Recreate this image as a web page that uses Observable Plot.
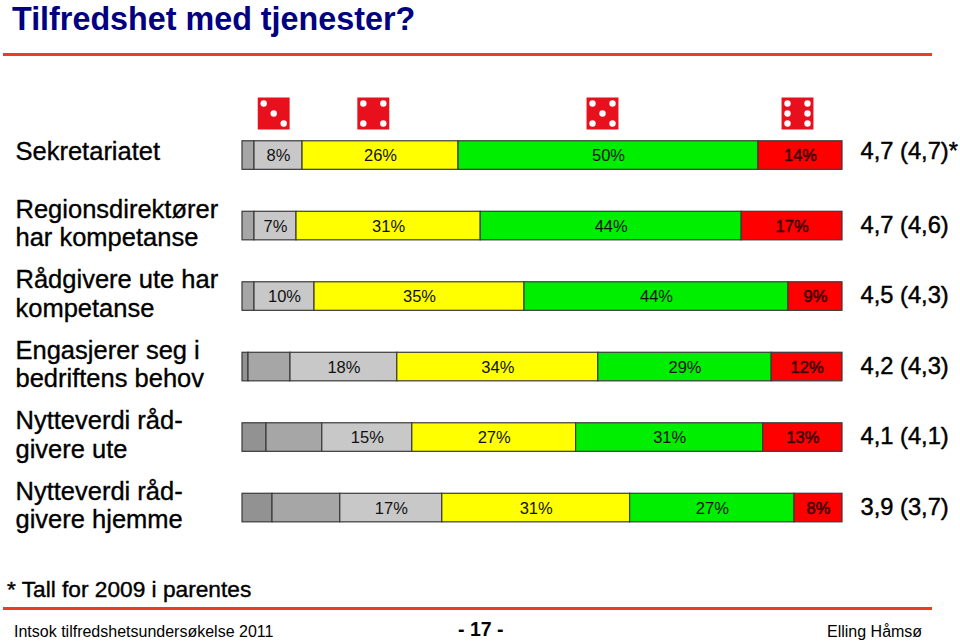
<!DOCTYPE html>
<html lang="no">
<head>
<meta charset="utf-8">
<title>Tilfredshet med tjenester?</title>
<script src="https://cdn.jsdelivr.net/npm/d3@7"></script>
<script src="https://cdn.jsdelivr.net/npm/@observablehq/plot@0.6"></script>
<style>
html,body{margin:0;padding:0;background:#fff}
body{width:960px;height:641px;overflow:hidden;font-family:"Liberation Sans",Arial,sans-serif;position:relative}
#head{height:87px;position:relative}
#head h1{position:absolute;left:12px;top:-1px;margin:0;font-size:32.3px;line-height:40px;font-weight:bold;color:#000080}
.rule{position:absolute;left:3px;width:929px;height:3px;background:#e8401c}
#chart{height:485px}
#chart svg{display:block}
#foot{position:relative;height:69px;color:#000}
#foot div{position:absolute;white-space:nowrap}
</style>
</head>
<body>
<div id="head"><h1>Tilfredshet med tjenester?</h1><div class="rule" style="top:53px"></div></div>
<div id="chart"></div>
<div id="foot">
  <div style="left:7px;top:4px;font-size:22.7px;line-height:26px;-webkit-text-stroke:0.4px #000">* Tall for 2009 i parentes</div>
  <div class="rule" style="top:35px"></div>
  <div style="left:14px;top:50px;font-size:16px;line-height:20px">Intsok tilfredshetsundersøkelse 2011</div>
  <div style="left:458px;top:46px;font-size:19.5px;line-height:22px;font-weight:bold">- 17 -</div>
  <div style="left:827px;top:50px;font-size:16px;line-height:20px">Elling Håmsø</div>
</div>
<script>
const rows = ["Sekretariatet","Regionsdirektører\nhar kompetanse","Rådgivere ute har\nkompetanse","Engasjerer seg i\nbedriftens behov","Nytteverdi råd-\ngivere ute","Nytteverdi råd-\ngivere hjemme"];
const scores = ["4,7 (4,7)*","4,7 (4,6)","4,5 (4,3)","4,2 (4,3)","4,1 (4,1)","3,9 (3,7)"];
const levels = ["1","2","3","4","5","6"];
const levelColors = ["#929292","#a6a6a6","#c8c8c8","#ffff00","#00ee00","#ff0000"];

// Share of answers per row
const level1 = [0, 0, 0, 1, 4, 5];
const level2 = [2, 2, 2, 7, 9.3, 11.3];
const level3 = [8, 7, 10, 17.8, 15, 17];
const level4 = [26, 30.7, 35, 33.5, 27.3, 31.3];
const level5 = [50, 43.5, 44, 28.9, 31.2, 27.4];
const level6 = [14, 16.8, 9, 11.8, 13.2, 8];
// Printed labels (rounded figures as shown)
const label3 = ["8%","7%","10%","18%","15%","17%"];
const label4 = ["26%","31%","35%","34%","27%","31%"];
const label5 = ["50%","44%","44%","29%","31%","27%"];
const label6 = ["14%","17%","9%","12%","13%","8%"];

const dice = [
  {x: 5.2, pips: 3},
  {x: 21.8, pips: 4},
  {x: 60, pips: 5},
  {x: 92.5, pips: 6}
];
const pipLayouts = {
  3: [[-10,-10],[0,0],[10,10]],
  4: [[-10,-10],[10,-10],[-10,10],[10,10]],
  5: [[-10,-10],[10,-10],[0,0],[-10,10],[10,10]],
  6: [[-10,-10],[10,-10],[-10,0],[10,0],[-10,10],[10,10]]
};

const series = [level1,level2,level3,level4,level5,level6];
const labels = [null,null,label3,label4,label5,label6];
const cells = [];
rows.forEach((row,i) => {
  let start = 0;
  series.forEach((s,j) => {
    const v = s[i];
    if (v > 0) cells.push({row, level: levels[j], x1: start, x2: start + v, label: labels[j] ? labels[j][i] : ""});
    start += v;
  });
});
const tops = rows.map((row,i) => ({row, score: scores[i]}));

const diceY = 26; // die centre inside the plot
const pipMarks = [];
for (const [dx,dy] of [[-10,-10],[0,-10],[10,-10],[-10,0],[0,0],[10,0],[-10,10],[0,10],[10,10]]) {
  const hits = dice.filter(d => pipLayouts[d.pips].some(p => p[0]===dx && p[1]===dy));
  if (hits.length) pipMarks.push(Plot.dot(hits, {x:"x", frameAnchor:"top", dx, dy: diceY+dy, r:3.2, fill:"#fff"}));
}

const rowText = {y:"row", text:"row", frameAnchor:"left", textAnchor:"start", dx:15, fontSize:25.5, lineHeight:1.12, fill:"#000", stroke:"#000", strokeWidth:0.35};
const scoreText = {y:"row", text:"score", frameAnchor:"left", textAnchor:"start", dx:860, fontSize:23.7, fill:"#000", stroke:"#000", strokeWidth:0.45};

const plot = Plot.plot({
  width: 960, height: 485,
  margin: 0,
  x: {domain:[0,100], range:[242,842], axis:null},
  y: {domain: rows, range:[32.8,455.8], paddingInner:0.595, paddingOuter:0.2975, round:false, axis:null},
  color: {domain: levels, range: levelColors},
  style: {background:"#fff", fontFamily:'"Liberation Sans",Arial,sans-serif'},
  marks: [
    Plot.barX(cells, {x1:"x1", x2:"x2", y:"row", fill:"level", stroke:"#3a3a3a", strokeWidth:1.2}),
    Plot.text(cells.filter(d => d.level !== "6"), {x: d => (d.x1+d.x2)/2, y:"row", text:"label", fontSize:16.5, fill:"#111", dy:0.5}),
    Plot.text(cells.filter(d => d.level === "6"), {x: d => (d.x1+d.x2)/2, y:"row", text:"label", fontSize:16.5, fill:"#3a0000", stroke:"#3a0000", strokeWidth:0.5, dy:0.5}),
    Plot.text(tops.slice(0,1), {...rowText, dy:-4.5}),
    Plot.text(tops.slice(1), {...rowText, dy:-3}),
    Plot.text(tops.slice(0,1), {...scoreText, dy:-4}),
    Plot.text(tops.slice(1), {...scoreText, dy:-1}),
    Plot.dot(dice, {x:"x", frameAnchor:"top", dy: diceY, symbol:"square", r:18, fill:"#e8101c"}),
    ...pipMarks
  ]
});
document.getElementById("chart").append(plot);
</script>
</body>
</html>
